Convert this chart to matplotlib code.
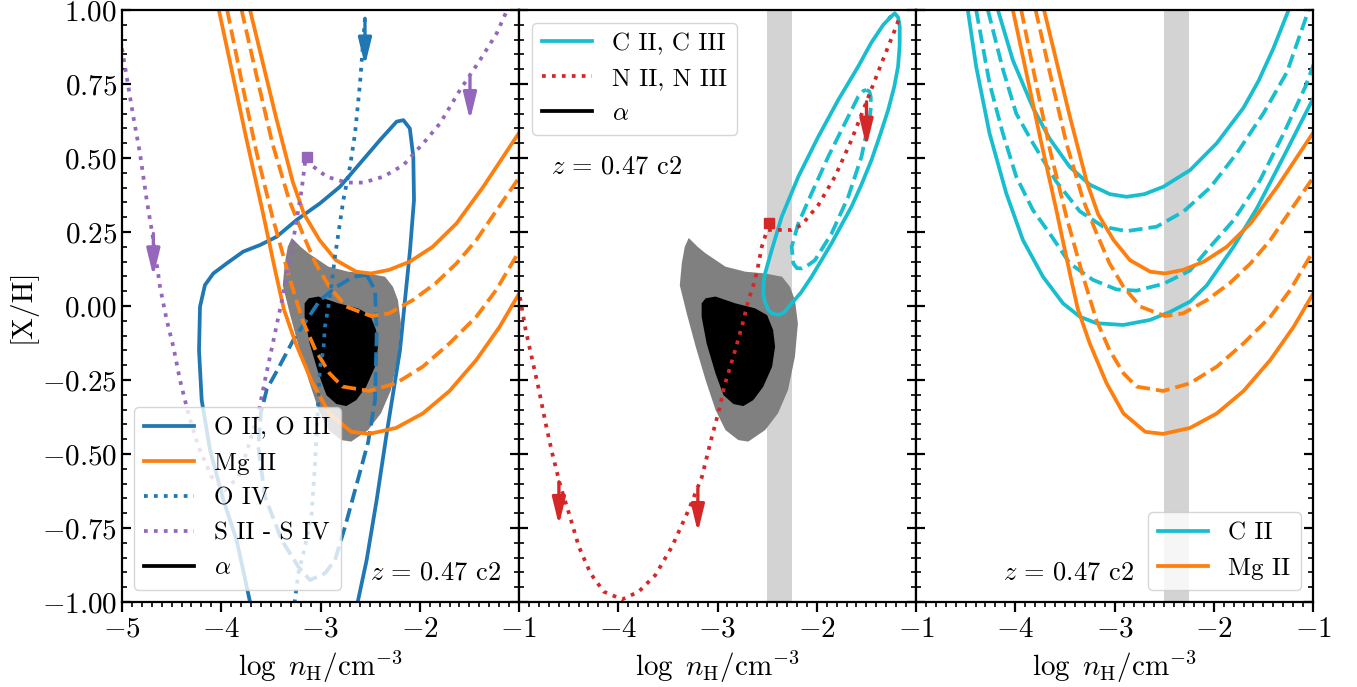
import matplotlib
matplotlib.use("Agg")
import matplotlib.pyplot as plt
from matplotlib.lines import Line2D
from matplotlib.ticker import MultipleLocator

plt.rcParams.update({
    'font.family': 'serif',
    'font.serif': ['cmr10', 'DejaVu Serif'],
    'mathtext.fontset': 'cm',
    'axes.formatter.use_mathtext': True,
    'font.size': 21,
    'axes.linewidth': 1.6,
    'lines.linewidth': 2.7,
})

# ---- data ----
# alpha posterior (outer / inner contour)
alpha_out_x = [-3.29, -3.20, -3.12, -2.92, -2.72, -2.52, -2.35, -2.27, -2.22, -2.19, -2.22, -2.29,
               -2.39, -2.52, -2.69, -2.79, -2.92, -3.02, -3.12, -3.22, -3.31, -3.38, -3.36, -3.33]
alpha_out_y = [0.23, 0.20, 0.178, 0.133, 0.116, 0.110, 0.099, 0.065, 0.020, -0.059, -0.171, -0.284,
               -0.362, -0.419, -0.458, -0.453, -0.419, -0.351, -0.250, -0.137, -0.025, 0.07, 0.144, 0.20]
alpha_in_x = [-3.12, -3.02, -2.82, -2.62, -2.50, -2.44, -2.42, -2.45, -2.54, -2.64, -2.74, -2.84,
              -2.94, -3.02, -3.11, -3.16, -3.16]
alpha_in_y = [0.026, 0.032, 0.009, -0.008, -0.031, -0.081, -0.137, -0.205, -0.273, -0.318, -0.338,
              -0.331, -0.301, -0.228, -0.126, -0.036, 0.009]

# Mg II (panels 1 and 3)
mg_hi_x = [-3.71, -3.58, -3.45, -3.28, -3.165, -3.01, -2.845, -2.64, -2.49, -2.31, -2.10, -1.87, -1.63, -1.36, -0.99]
mg_hi_y = [1.00, 0.82, 0.64, 0.42, 0.31, 0.223, 0.155, 0.116, 0.110, 0.122, 0.150, 0.200, 0.279, 0.403, 0.59]
mg_dhi_x = [-3.795, -3.65, -3.485, -3.316, -3.18, -3.05, -2.91, -2.74, -2.49, -2.31, -2.07, -1.84, -1.63, -1.43, -1.20, -0.98]
mg_dhi_y = [1.00, 0.786, 0.55, 0.358, 0.245, 0.144, 0.065, -0.002, -0.034, -0.025, 0.020, 0.077, 0.144, 0.223, 0.336, 0.443]
mg_dlo_x = [-3.94, -3.79, -3.65, -3.485, -3.316, -3.18, -3.05, -2.91, -2.78, -2.51, -2.24, -1.97, -1.70, -1.43, -1.23, -0.99]
mg_dlo_y = [1.00, 0.752, 0.527, 0.302, 0.099, -0.05, -0.149, -0.227, -0.272, -0.287, -0.261, -0.205, -0.126, -0.036, 0.054, 0.19]
mg_lo_x = [-4.024, -3.89, -3.75, -3.59, -3.45, -3.37, -3.25, -3.08, -2.91, -2.69, -2.51, -2.24, -1.97, -1.70, -1.43, -1.195, -0.99]
mg_lo_y = [1.00, 0.79, 0.57, 0.33, 0.11, -0.01, -0.126, -0.261, -0.363, -0.425, -0.432, -0.412, -0.363, -0.287, -0.182, -0.070, 0.047]

# O II, O III (solid, dashed), O IV (dotted)
o23_x = [-3.71, -3.845, -3.979, -4.113, -4.197, -4.224, -4.214, -4.164, -4.080, -3.945, -3.778, -3.610, -3.442,
         -3.240, -3.005, -2.804, -2.602, -2.400, -2.233, -2.165, -2.10, -2.065, -2.058, -2.098, -2.149, -2.199,
         -2.333, -2.434, -2.535, -2.625]
o23_y = [-1.0, -0.791, -0.655, -0.486, -0.318, -0.149, -0.002, 0.071, 0.110, 0.144, 0.184, 0.206, 0.234,
         0.291, 0.347, 0.403, 0.482, 0.561, 0.623, 0.628, 0.60, 0.505, 0.358, 0.189, 0.020, -0.149,
         -0.430, -0.655, -0.858, -1.0]
o23d_x = [-2.535, -2.451, -2.434, -2.451, -2.52, -2.652, -2.753, -2.854, -2.955, -3.106, -3.223, -3.391,
          -3.559, -3.627, -3.60, -3.54, -3.44, -3.274, -3.073, -3.005, -2.837, -2.669, -2.535]
o23d_y = [0.105, 0.054, -0.092, -0.318, -0.46, -0.622, -0.746, -0.858, -0.903, -0.926, -0.881, -0.791,
          -0.644, -0.475, -0.36, -0.28, -0.22, -0.115, -0.014, 0.020, 0.065, 0.099, 0.105]
o4_x = [-2.552, -2.602, -2.652, -2.703, -2.770, -2.820, -2.854, -2.887, -2.921, -2.955, -2.971, -3.005,
        -3.022, -3.055, -3.089, -3.156, -3.223, -3.26]
o4_y = [0.972, 0.752, 0.583, 0.471, 0.358, 0.245, 0.167, 0.077, -0.002, -0.070, -0.149, -0.205,
        -0.318, -0.531, -0.700, -0.813, -0.903, -1.0]

# S II - S IV
s_x = [-5.0, -4.970, -4.886, -4.819, -4.751, -4.684, -4.617, -4.550, -4.483, -4.416, -4.332, -4.231,
       -4.096, -3.962, -3.828, -3.727, -3.627, -3.559, -3.47, -3.374, -3.274, -3.190, -3.157, -3.133,
       -3.072, -2.938, -2.737, -2.568, -2.367, -2.165, -1.964, -1.796, -1.594, -1.393, -1.225, -1.12]
s_y = [0.87, 0.809, 0.640, 0.516, 0.358, 0.223, 0.065, -0.047, -0.137, -0.25, -0.363, -0.475,
       -0.577, -0.622, -0.577, -0.475, -0.363, -0.25, -0.11, 0.043, 0.223, 0.392, 0.482, 0.502,
       0.471, 0.437, 0.417, 0.417, 0.437, 0.476, 0.550, 0.617, 0.730, 0.831, 0.921, 1.0]
s_mark = (-3.133, 0.502)

# C II, C III ellipses (panel 2)
c23_x = [-1.26, -1.214, -1.18, -1.164, -1.165, -1.181, -1.22, -1.281, -1.36, -1.449, -1.55, -1.650,
         -1.851, -2.052, -2.16, -2.253, -2.33, -2.387, -2.45, -2.487, -2.525, -2.538, -2.535, -2.521,
         -2.454, -2.353, -2.186, -1.985, -1.784, -1.583, -1.45, -1.33, -1.26]
c23_y = [0.975, 0.989, 0.975, 0.944, 0.88, 0.809, 0.74, 0.662, 0.58, 0.493, 0.41, 0.336,
         0.212, 0.099, 0.045, 0.009, -0.022, -0.030, -0.025, -0.014, 0.015, 0.043, 0.08, 0.110,
         0.189, 0.302, 0.437, 0.572, 0.696, 0.809, 0.89, 0.95, 0.975]
c23d_x = [-1.499, -1.47, -1.456, -1.455, -1.466, -1.549, -1.683, -1.851, -2.018, -2.10, -2.152, -2.20,
          -2.236, -2.253, -2.186, -2.052, -1.884, -1.717, -1.583, -1.53, -1.499]
c23d_y = [0.730, 0.725, 0.707, 0.67, 0.640, 0.505, 0.369, 0.245, 0.155, 0.135, 0.127, 0.128,
          0.144, 0.200, 0.279, 0.381, 0.505, 0.617, 0.707, 0.727, 0.730]

# N II, N III
n_x = [-4.99, -4.933, -4.866, -4.799, -4.732, -4.665, -4.581, -4.497, -4.397, -4.280, -4.146, -3.961,
       -3.794, -3.626, -3.459, -3.291, -3.157, -3.064, -2.980, -2.933, -2.839, -2.755, -2.688, -2.638,
       -2.60, -2.554, -2.50, -2.40, -2.253, -2.152, -1.985, -1.817, -1.650, -1.499, -1.348, -1.214, -1.164]
n_y = [0.03, -0.081, -0.182, -0.284, -0.396, -0.498, -0.610, -0.700, -0.813, -0.903, -0.965, -0.991,
       -0.965, -0.909, -0.813, -0.689, -0.577, -0.451, -0.346, -0.273, -0.169, -0.070, 0.020, 0.071,
       0.12, 0.200, 0.257, 0.257, 0.257, 0.274, 0.341, 0.437, 0.561, 0.690, 0.820, 0.932, 0.977]
n_mark = (-2.48, 0.28)

# C II alone (panel 3)
c2_hi_x = [-4.175, -4.024, -3.822, -3.653, -3.451, -3.249, -3.047, -2.879, -2.70, -2.508, -2.239, -1.970, -1.70, -1.55, -1.40, -1.246]
c2_hi_y = [1.00, 0.83, 0.67, 0.565, 0.47, 0.41, 0.378, 0.369, 0.378, 0.403, 0.459, 0.550, 0.67, 0.76, 0.87, 1.00]
c2_dhi_x = [-4.276, -4.125, -3.990, -3.822, -3.586, -3.350, -3.114, -2.879, -2.576, -2.306, -2.037, -1.768, -1.498, -1.263, -1.044]
c2_dhi_y = [1.00, 0.80, 0.65, 0.55, 0.42, 0.32, 0.268, 0.253, 0.268, 0.319, 0.40, 0.516, 0.652, 0.79, 1.00]
c2_dlo_x = [-4.394, -4.259, -4.125, -3.990, -3.822, -3.653, -3.451, -3.215, -2.980, -2.778, -2.508, -2.239,
            -2.037, -1.80, -1.532, -1.296, -1.077, -0.99]
c2_dlo_y = [1.00, 0.752, 0.583, 0.437, 0.324, 0.245, 0.144, 0.088, 0.056, 0.052, 0.075, 0.12,
            0.20, 0.29, 0.426, 0.583, 0.741, 0.82]
c2_lo_x = [-4.478, -4.394, -4.259, -4.091, -3.923, -3.721, -3.519, -3.35, -3.182, -2.912, -2.643, -2.441,
           -2.239, -2.07, -1.801, -1.566, -1.296, -0.99]
c2_lo_y = [1.00, 0.809, 0.583, 0.381, 0.223, 0.099, 0.009, -0.036, -0.058, -0.064, -0.047, -0.02,
           0.015, 0.07, 0.20, 0.33, 0.505, 0.707]

# upper-limit arrows: x, tail y, tip y
o4_arrows = [(-2.552, 0.972, 0.812)]
s_arrows = [(-4.684, 0.245, 0.10), (-1.494, 0.775, 0.628)]
n_arrows = [(-4.598, -0.594, -0.74), (-3.198, -0.617, -0.764), (-1.499, 0.690, 0.538)]

# density band
nh_lo, nh_hi = -2.5, -2.25
z_text = r'$z\,=\,0.47$ c2'

c_o, c_mg, c_s, c_n, c_c = 'tab:blue', 'tab:orange', 'tab:purple', 'tab:red', 'tab:cyan'


def draw_arrows(ax, arrows, color):
    for x, y0, y1 in arrows:
        ax.annotate('', xy=(x, y1), xytext=(x, y0),
                    arrowprops=dict(arrowstyle='-|>,head_length=0.9,head_width=0.22',
                                    color=color, lw=2.4, mutation_scale=18,
                                    shrinkA=0, shrinkB=0))


def draw_alpha(ax):
    ax.fill(alpha_out_x, alpha_out_y, color='gray', lw=0, zorder=1)
    ax.fill(alpha_in_x, alpha_in_y, color='black', lw=0, zorder=1)


def draw_mg(ax):
    ax.plot(mg_hi_x, mg_hi_y, color=c_mg, ls='-')
    ax.plot(mg_dhi_x, mg_dhi_y, color=c_mg, ls='--')
    ax.plot(mg_dlo_x, mg_dlo_y, color=c_mg, ls='--')
    ax.plot(mg_lo_x, mg_lo_y, color=c_mg, ls='-')


fig = plt.figure(figsize=(13.57, 6.87), dpi=100)
axes = fig.subplots(1, 3, sharey=True)
fig.subplots_adjust(left=0.0899, right=0.9676, top=0.9854, bottom=0.1237, wspace=0)

# panel 1
ax = axes[0]
draw_alpha(ax)
ax.plot(o23_x, o23_y, color=c_o, ls='-')
ax.plot(o23d_x, o23d_y, color=c_o, ls='--')
draw_mg(ax)
ax.plot(o4_x, o4_y, color=c_o, ls=':')
ax.plot(s_x, s_y, color=c_s, ls=':')
ax.plot(*s_mark, marker='s', ms=7, color=c_s)
draw_arrows(ax, o4_arrows, c_o)
draw_arrows(ax, s_arrows, c_s)
h1 = [Line2D([], [], color=c_o, ls='-'), Line2D([], [], color=c_mg, ls='-'),
      Line2D([], [], color=c_o, ls=':'), Line2D([], [], color=c_s, ls=':'),
      Line2D([], [], color='black', ls='-')]
ax.legend(h1, ['O II, O III', 'Mg II', 'O IV', 'S II - S IV', r'$\alpha$'],
          loc='lower left', fontsize=18)
ax.text(0.955, 0.03, z_text, transform=ax.transAxes, ha='right', va='bottom', fontsize=19)
ax.set_ylabel('[X/H]')

# panel 2
ax = axes[1]
ax.axvspan(nh_lo, nh_hi, color='lightgray', lw=0, zorder=0)
draw_alpha(ax)
ax.plot(c23_x, c23_y, color=c_c, ls='-')
ax.plot(c23d_x, c23d_y, color=c_c, ls='--')
ax.plot(n_x, n_y, color=c_n, ls=':')
ax.plot(*n_mark, marker='s', ms=7, color=c_n)
draw_arrows(ax, n_arrows, c_n)
h2 = [Line2D([], [], color=c_c, ls='-'), Line2D([], [], color=c_n, ls=':'),
      Line2D([], [], color='black', ls='-')]
ax.legend(h2, ['C II, C III', 'N II, N III', r'$\alpha$'], loc='upper left', fontsize=18)
ax.text(0.08, 0.735, z_text, transform=ax.transAxes, ha='left', va='center', fontsize=19)

# panel 3
ax = axes[2]
ax.axvspan(nh_lo, nh_hi, color='lightgray', lw=0, zorder=0)
ax.plot(c2_hi_x, c2_hi_y, color=c_c, ls='-')
ax.plot(c2_dhi_x, c2_dhi_y, color=c_c, ls='--')
ax.plot(c2_dlo_x, c2_dlo_y, color=c_c, ls='--')
ax.plot(c2_lo_x, c2_lo_y, color=c_c, ls='-')
draw_mg(ax)
h3 = [Line2D([], [], color=c_c, ls='-'), Line2D([], [], color=c_mg, ls='-')]
ax.legend(h3, ['C II', 'Mg II'], loc='lower right', fontsize=18)
ax.text(0.55, 0.03, z_text, transform=ax.transAxes, ha='right', va='bottom', fontsize=19)

for i, ax in enumerate(axes):
    ax.set_xlim(-5, -1)
    ax.set_ylim(-1, 1)
    ax.xaxis.set_major_locator(MultipleLocator(1))
    ax.xaxis.set_minor_locator(MultipleLocator(0.1))
    ax.yaxis.set_major_locator(MultipleLocator(0.25))
    ax.yaxis.set_minor_locator(MultipleLocator(0.05))
    if i > 0:
        ax.set_xticks([-4, -3, -2, -1])
    ax.tick_params(axis='x', which='major', length=7, width=1.6)
    ax.tick_params(axis='x', which='minor', length=3.6, width=1.2)
    ax.tick_params(axis='y', which='both', direction='in', left=True, right=True)
    ax.tick_params(axis='y', which='major', length=6.5, width=1.6)
    ax.tick_params(axis='y', which='minor', length=3.6, width=1.2)
    ax.set_xlabel(r'$\log\ n_{\rm H}/{\rm cm}^{-3}$')

fig.savefig('out.png', dpi=100)
